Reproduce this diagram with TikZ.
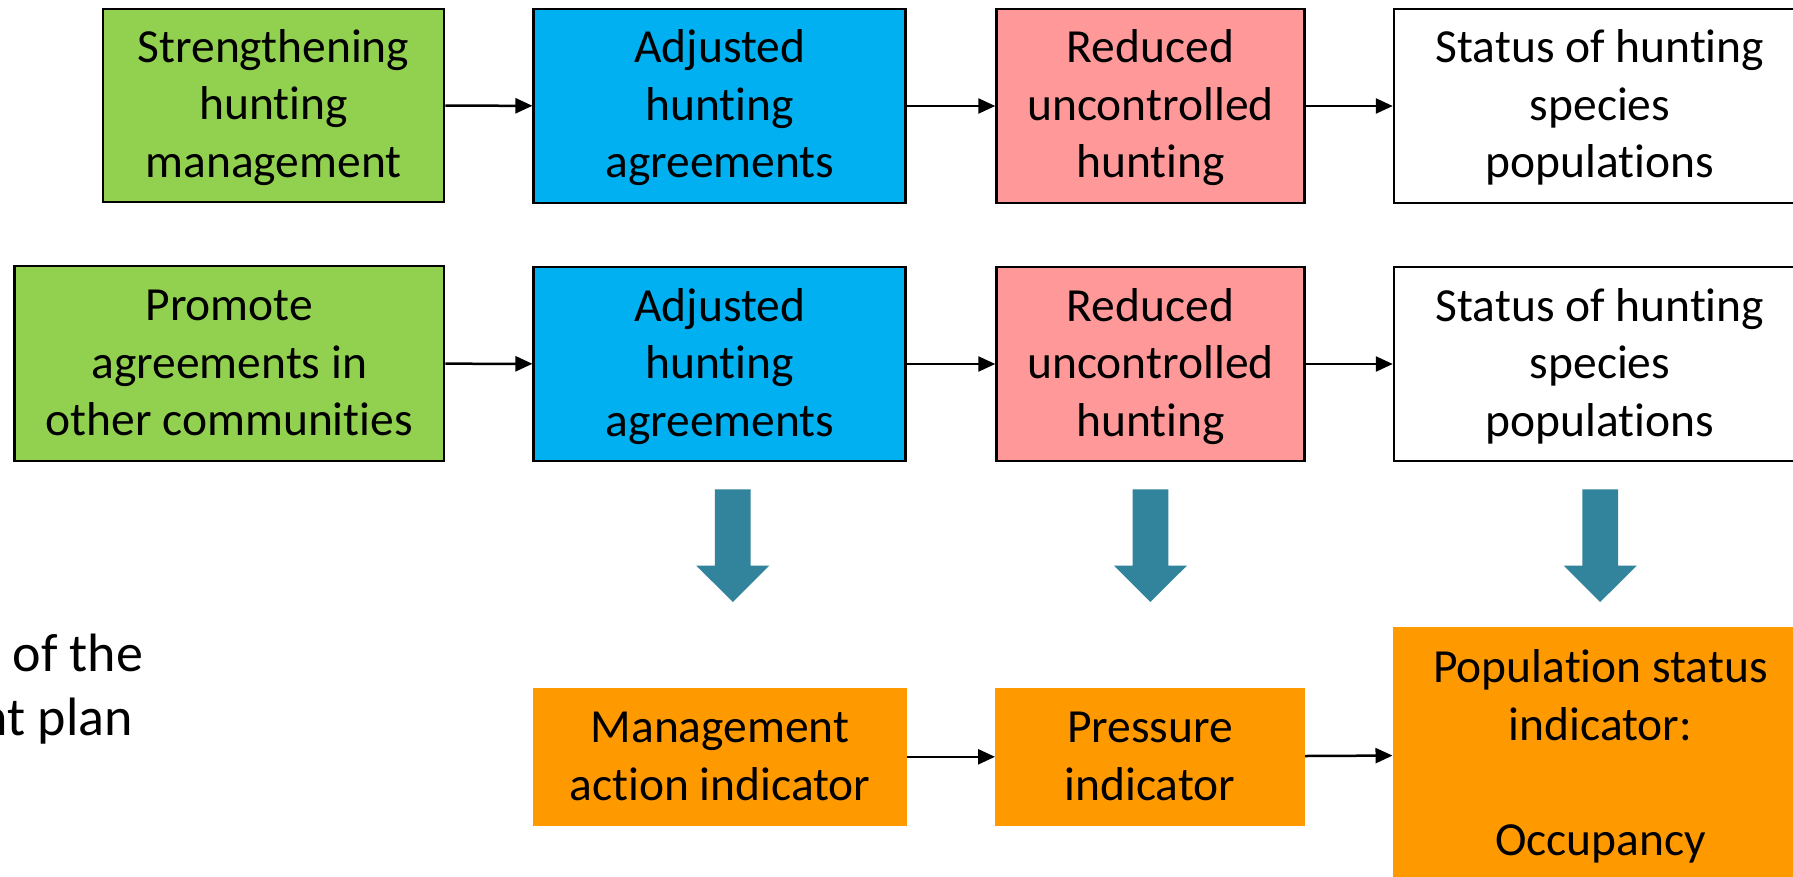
\documentclass[tikz,border=0pt]{standalone}
\usepackage{fontspec}
\setmainfont{Carlito}[Ligatures={NoCommon,NoRare,NoContextual}]
\usetikzlibrary{arrows.meta}
\definecolor{cgreen}{HTML}{92D050}
\definecolor{cblue}{HTML}{00B0F0}
\definecolor{cpink}{HTML}{FF9999}
\definecolor{corange}{HTML}{FF9900}
\definecolor{cteal}{HTML}{31849B}
\newcommand{\ls}{\rule[-14.25pt]{0pt}{57.5pt}}
\newcommand{\ti}{t\kern0pt i}
\tikzset{
  box/.style={draw=black, line width=2.5pt, inner sep=0pt, align=center,
    font=\fontsize{47.5pt}{57.5pt}\selectfont},
  obox/.style={fill=corange, draw=corange, line width=1pt, inner sep=0pt, align=center,
    font=\fontsize{47.5pt}{57.5pt}\selectfont},
  conn/.style={line width=2.5pt, -{Triangle[length=17pt,width=15pt]}},
  lefttext/.style={inner sep=0pt, font=\fontsize{54pt}{65pt}\selectfont}
}
\begin{document}
\begin{tikzpicture}[x=1pt,y=-1pt]
\useasboundingbox (0,0) rectangle (1793,877);
\fill[white] (0,0) rectangle (1793,877);
\clip (0,0) rectangle (1793,877);

% row 1
\node[box, fill=cgreen, minimum width=341pt, minimum height=193pt] (g1) at (273.5,105.5)
  {Strengthening\ls\\hun\ti ng\ls\\management\ls};
\node[box, fill=cblue, minimum width=372pt, minimum height=194pt] (b1) at (719.7,106)
  {Adjusted\ls\\hun\ti ng\ls\\agreements\ls};
\node[box, fill=cpink, minimum width=308pt, minimum height=194pt] (p1) at (1150.5,106)
  {Reduced\ls\\uncontrolled\ls\\hun\ti ng\ls};
\node[box, fill=white, minimum width=412pt, minimum height=194pt] (w1) at (1600,106)
  {Status of hun\ti ng\ls\\species\ls\\popula\ti ons\ls};

% row 2
\node[box, fill=cgreen, minimum width=429.5pt, minimum height=195pt] (g2) at (229.25,363.5)
  {Promote\ls\\agreements in\ls\\other communi\ti es\ls};
\node[box, fill=cblue, minimum width=372pt, minimum height=194pt] (b2) at (719.7,364)
  {Adjusted\ls\\hun\ti ng\ls\\agreements\ls};
\node[box, fill=cpink, minimum width=308pt, minimum height=194pt] (p2) at (1150.5,364)
  {Reduced\ls\\uncontrolled\ls\\hun\ti ng\ls};
\node[box, fill=white, minimum width=412pt, minimum height=194pt] (w2) at (1600,364)
  {Status of hun\ti ng\ls\\species\ls\\popula\ti ons\ls};

% indicators
\node[obox, minimum width=372.5pt, minimum height=137pt] (m) at (720,756.8)
  {Management\ls\\ac\ti on indicator\ls};
\node[obox, minimum width=309pt, minimum height=137pt] (pr) at (1150,756.8)
  {Pressure\ls\\indicator\ls};
\node[obox, minimum width=415pt, minimum height=255pt] (pop) at (1600.5,754.5)
  {Popula\ti on status\ls\\indicator:\ls\\\ls\\Occupancy\ls};

% connectors
\draw[conn] (g1) -- (b1);
\draw[conn] (b1) -- (p1);
\draw[conn] (p1) -- (w1);
\draw[conn] (g2) -- (b2);
\draw[conn] (b2) -- (p2);
\draw[conn] (p2) -- (w2);
\draw[conn] (m) -- (pr);
\draw[conn] (pr) -- (pop);

% block arrows
\foreach \cx in {732.8,1150.4,1600.2}{
  \fill[cteal] (\cx-17.9,489.3) -- (\cx+17.9,489.3) -- (\cx+17.9,565.6)
    -- (\cx+36.5,565.6) -- (\cx,602) -- (\cx-36.5,565.6) -- (\cx-17.9,565.6) -- cycle;
}

% cropped left text
\node[lefttext, anchor=base west] (t1) at (12.5,671) {of the};
\node[lefttext, anchor=base east] (t2) at (133,735) {nt plan};
\end{tikzpicture}
\end{document}
